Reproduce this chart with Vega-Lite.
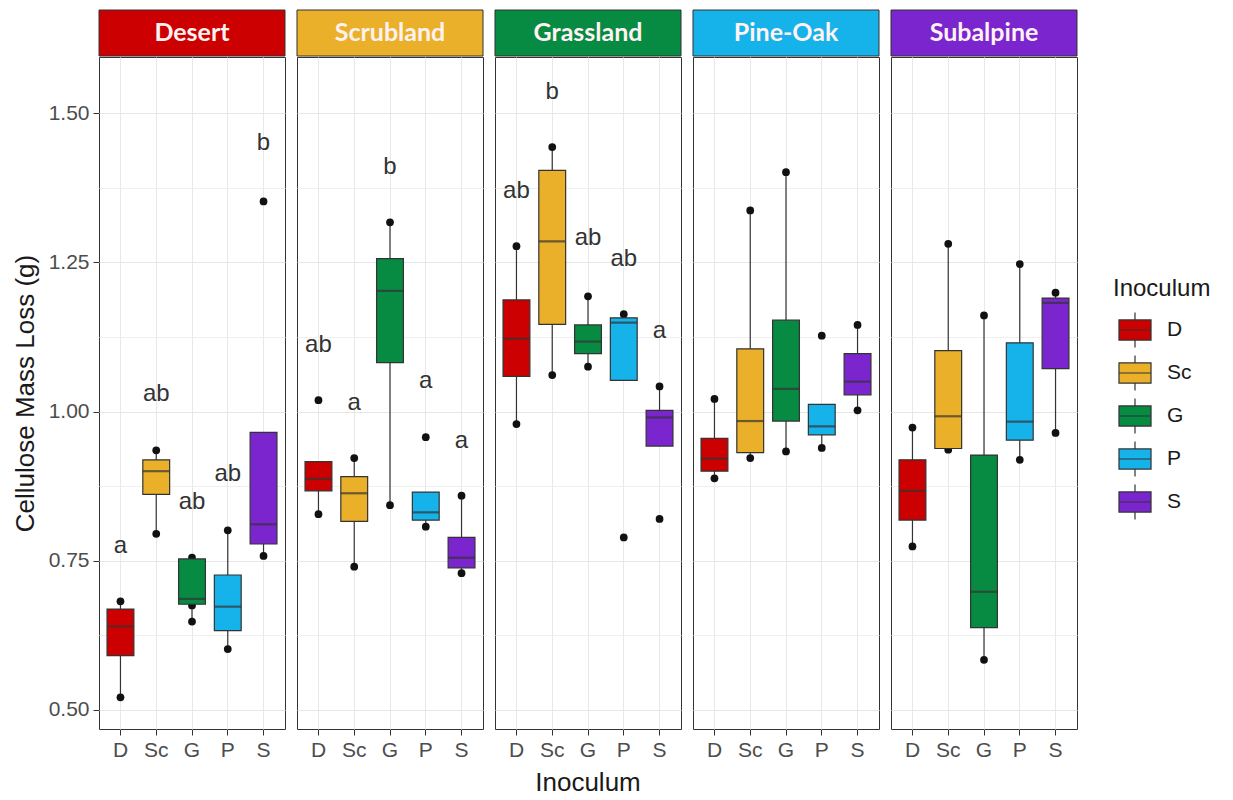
{
  "$schema": "https://vega.github.io/schema/vega-lite/v6.json",
  "background": "white",
  "padding": {"left": 12, "top": 9, "right": 5, "bottom": 5},
  "config": {
    "font": "Liberation Sans",
    "view": {"stroke": "#333333", "strokeWidth": 1},
    "concat": {"spacing": 0}
  },
  "datasets": {
    "habitats": [
      {"Habitat": "Desert"}, {"Habitat": "Scrubland"}, {"Habitat": "Grassland"}, {"Habitat": "Pine-Oak"}, {"Habitat": "Subalpine"}
    ],
    "main": [
      {"kind": "box", "Habitat": "Desert", "Inoculum": "D", "lo": 0.521, "q1": 0.591, "med": 0.640, "q3": 0.669, "hi": 0.682},
      {"kind": "box", "Habitat": "Desert", "Inoculum": "Sc", "lo": 0.795, "q1": 0.861, "med": 0.900, "q3": 0.919, "hi": 0.935},
      {"kind": "box", "Habitat": "Desert", "Inoculum": "G", "lo": 0.648, "q1": 0.677, "med": 0.686, "q3": 0.753, "hi": 0.755},
      {"kind": "box", "Habitat": "Desert", "Inoculum": "P", "lo": 0.602, "q1": 0.633, "med": 0.673, "q3": 0.726, "hi": 0.801},
      {"kind": "box", "Habitat": "Desert", "Inoculum": "S", "lo": 0.758, "q1": 0.778, "med": 0.811, "q3": 0.965, "hi": 0.965},
      {"kind": "box", "Habitat": "Scrubland", "Inoculum": "D", "lo": 0.828, "q1": 0.867, "med": 0.887, "q3": 0.916, "hi": 0.916},
      {"kind": "box", "Habitat": "Scrubland", "Inoculum": "Sc", "lo": 0.740, "q1": 0.816, "med": 0.863, "q3": 0.891, "hi": 0.922},
      {"kind": "box", "Habitat": "Scrubland", "Inoculum": "G", "lo": 0.843, "q1": 1.082, "med": 1.202, "q3": 1.256, "hi": 1.317},
      {"kind": "box", "Habitat": "Scrubland", "Inoculum": "P", "lo": 0.807, "q1": 0.818, "med": 0.831, "q3": 0.865, "hi": 0.865},
      {"kind": "box", "Habitat": "Scrubland", "Inoculum": "S", "lo": 0.729, "q1": 0.738, "med": 0.755, "q3": 0.789, "hi": 0.859},
      {"kind": "box", "Habitat": "Grassland", "Inoculum": "D", "lo": 0.979, "q1": 1.059, "med": 1.122, "q3": 1.187, "hi": 1.277},
      {"kind": "box", "Habitat": "Grassland", "Inoculum": "Sc", "lo": 1.061, "q1": 1.146, "med": 1.285, "q3": 1.404, "hi": 1.443},
      {"kind": "box", "Habitat": "Grassland", "Inoculum": "G", "lo": 1.075, "q1": 1.097, "med": 1.117, "q3": 1.145, "hi": 1.193},
      {"kind": "box", "Habitat": "Grassland", "Inoculum": "P", "lo": 1.052, "q1": 1.052, "med": 1.149, "q3": 1.157, "hi": 1.163},
      {"kind": "box", "Habitat": "Grassland", "Inoculum": "S", "lo": 0.942, "q1": 0.942, "med": 0.990, "q3": 1.002, "hi": 1.042},
      {"kind": "box", "Habitat": "Pine-Oak", "Inoculum": "D", "lo": 0.888, "q1": 0.900, "med": 0.921, "q3": 0.955, "hi": 1.021},
      {"kind": "box", "Habitat": "Pine-Oak", "Inoculum": "Sc", "lo": 0.922, "q1": 0.931, "med": 0.984, "q3": 1.105, "hi": 1.337},
      {"kind": "box", "Habitat": "Pine-Oak", "Inoculum": "G", "lo": 0.933, "q1": 0.984, "med": 1.038, "q3": 1.153, "hi": 1.401},
      {"kind": "box", "Habitat": "Pine-Oak", "Inoculum": "P", "lo": 0.939, "q1": 0.961, "med": 0.975, "q3": 1.012, "hi": 1.012},
      {"kind": "box", "Habitat": "Pine-Oak", "Inoculum": "S", "lo": 1.002, "q1": 1.028, "med": 1.050, "q3": 1.097, "hi": 1.145},
      {"kind": "box", "Habitat": "Subalpine", "Inoculum": "D", "lo": 0.774, "q1": 0.818, "med": 0.867, "q3": 0.919, "hi": 0.973},
      {"kind": "box", "Habitat": "Subalpine", "Inoculum": "Sc", "lo": 0.936, "q1": 0.938, "med": 0.992, "q3": 1.102, "hi": 1.281},
      {"kind": "box", "Habitat": "Subalpine", "Inoculum": "G", "lo": 0.584, "q1": 0.638, "med": 0.698, "q3": 0.927, "hi": 1.161},
      {"kind": "box", "Habitat": "Subalpine", "Inoculum": "P", "lo": 0.919, "q1": 0.952, "med": 0.983, "q3": 1.115, "hi": 1.247},
      {"kind": "box", "Habitat": "Subalpine", "Inoculum": "S", "lo": 0.964, "q1": 1.072, "med": 1.182, "q3": 1.190, "hi": 1.199},

      {"kind": "dot", "Habitat": "Desert", "Inoculum": "D", "v": 0.682},
      {"kind": "dot", "Habitat": "Desert", "Inoculum": "D", "v": 0.521},
      {"kind": "dot", "Habitat": "Desert", "Inoculum": "Sc", "v": 0.935},
      {"kind": "dot", "Habitat": "Desert", "Inoculum": "Sc", "v": 0.795},
      {"kind": "dot", "Habitat": "Desert", "Inoculum": "G", "v": 0.755},
      {"kind": "dot", "Habitat": "Desert", "Inoculum": "G", "v": 0.675},
      {"kind": "dot", "Habitat": "Desert", "Inoculum": "G", "v": 0.648},
      {"kind": "dot", "Habitat": "Desert", "Inoculum": "P", "v": 0.801},
      {"kind": "dot", "Habitat": "Desert", "Inoculum": "P", "v": 0.602},
      {"kind": "dot", "Habitat": "Desert", "Inoculum": "S", "v": 1.352},
      {"kind": "dot", "Habitat": "Desert", "Inoculum": "S", "v": 0.758},
      {"kind": "dot", "Habitat": "Scrubland", "Inoculum": "D", "v": 1.019},
      {"kind": "dot", "Habitat": "Scrubland", "Inoculum": "D", "v": 0.828},
      {"kind": "dot", "Habitat": "Scrubland", "Inoculum": "Sc", "v": 0.922},
      {"kind": "dot", "Habitat": "Scrubland", "Inoculum": "Sc", "v": 0.740},
      {"kind": "dot", "Habitat": "Scrubland", "Inoculum": "G", "v": 1.317},
      {"kind": "dot", "Habitat": "Scrubland", "Inoculum": "G", "v": 0.843},
      {"kind": "dot", "Habitat": "Scrubland", "Inoculum": "P", "v": 0.957},
      {"kind": "dot", "Habitat": "Scrubland", "Inoculum": "P", "v": 0.807},
      {"kind": "dot", "Habitat": "Scrubland", "Inoculum": "S", "v": 0.859},
      {"kind": "dot", "Habitat": "Scrubland", "Inoculum": "S", "v": 0.729},
      {"kind": "dot", "Habitat": "Grassland", "Inoculum": "D", "v": 1.277},
      {"kind": "dot", "Habitat": "Grassland", "Inoculum": "D", "v": 0.979},
      {"kind": "dot", "Habitat": "Grassland", "Inoculum": "Sc", "v": 1.443},
      {"kind": "dot", "Habitat": "Grassland", "Inoculum": "Sc", "v": 1.061},
      {"kind": "dot", "Habitat": "Grassland", "Inoculum": "G", "v": 1.193},
      {"kind": "dot", "Habitat": "Grassland", "Inoculum": "G", "v": 1.075},
      {"kind": "dot", "Habitat": "Grassland", "Inoculum": "P", "v": 1.163},
      {"kind": "dot", "Habitat": "Grassland", "Inoculum": "P", "v": 0.789},
      {"kind": "dot", "Habitat": "Grassland", "Inoculum": "S", "v": 1.042},
      {"kind": "dot", "Habitat": "Grassland", "Inoculum": "S", "v": 0.820},
      {"kind": "dot", "Habitat": "Pine-Oak", "Inoculum": "D", "v": 1.021},
      {"kind": "dot", "Habitat": "Pine-Oak", "Inoculum": "D", "v": 0.888},
      {"kind": "dot", "Habitat": "Pine-Oak", "Inoculum": "Sc", "v": 1.337},
      {"kind": "dot", "Habitat": "Pine-Oak", "Inoculum": "Sc", "v": 0.922},
      {"kind": "dot", "Habitat": "Pine-Oak", "Inoculum": "G", "v": 1.401},
      {"kind": "dot", "Habitat": "Pine-Oak", "Inoculum": "G", "v": 0.933},
      {"kind": "dot", "Habitat": "Pine-Oak", "Inoculum": "P", "v": 1.127},
      {"kind": "dot", "Habitat": "Pine-Oak", "Inoculum": "P", "v": 0.939},
      {"kind": "dot", "Habitat": "Pine-Oak", "Inoculum": "S", "v": 1.145},
      {"kind": "dot", "Habitat": "Pine-Oak", "Inoculum": "S", "v": 1.002},
      {"kind": "dot", "Habitat": "Subalpine", "Inoculum": "D", "v": 0.973},
      {"kind": "dot", "Habitat": "Subalpine", "Inoculum": "D", "v": 0.774},
      {"kind": "dot", "Habitat": "Subalpine", "Inoculum": "Sc", "v": 1.281},
      {"kind": "dot", "Habitat": "Subalpine", "Inoculum": "Sc", "v": 0.936},
      {"kind": "dot", "Habitat": "Subalpine", "Inoculum": "G", "v": 1.161},
      {"kind": "dot", "Habitat": "Subalpine", "Inoculum": "G", "v": 0.584},
      {"kind": "dot", "Habitat": "Subalpine", "Inoculum": "P", "v": 1.247},
      {"kind": "dot", "Habitat": "Subalpine", "Inoculum": "P", "v": 0.919},
      {"kind": "dot", "Habitat": "Subalpine", "Inoculum": "S", "v": 1.199},
      {"kind": "dot", "Habitat": "Subalpine", "Inoculum": "S", "v": 0.964},

      {"kind": "letter", "Habitat": "Desert", "Inoculum": "D", "v": 0.775, "label": "a"},
      {"kind": "letter", "Habitat": "Desert", "Inoculum": "Sc", "v": 1.030, "label": "ab"},
      {"kind": "letter", "Habitat": "Desert", "Inoculum": "G", "v": 0.848, "label": "ab"},
      {"kind": "letter", "Habitat": "Desert", "Inoculum": "P", "v": 0.895, "label": "ab"},
      {"kind": "letter", "Habitat": "Desert", "Inoculum": "S", "v": 1.450, "label": "b"},
      {"kind": "letter", "Habitat": "Scrubland", "Inoculum": "D", "v": 1.112, "label": "ab"},
      {"kind": "letter", "Habitat": "Scrubland", "Inoculum": "Sc", "v": 1.015, "label": "a"},
      {"kind": "letter", "Habitat": "Scrubland", "Inoculum": "G", "v": 1.410, "label": "b"},
      {"kind": "letter", "Habitat": "Scrubland", "Inoculum": "P", "v": 1.051, "label": "a"},
      {"kind": "letter", "Habitat": "Scrubland", "Inoculum": "S", "v": 0.951, "label": "a"},
      {"kind": "letter", "Habitat": "Grassland", "Inoculum": "D", "v": 1.370, "label": "ab"},
      {"kind": "letter", "Habitat": "Grassland", "Inoculum": "Sc", "v": 1.536, "label": "b"},
      {"kind": "letter", "Habitat": "Grassland", "Inoculum": "G", "v": 1.290, "label": "ab"},
      {"kind": "letter", "Habitat": "Grassland", "Inoculum": "P", "v": 1.256, "label": "ab"},
      {"kind": "letter", "Habitat": "Grassland", "Inoculum": "S", "v": 1.135, "label": "a"}
    ]
  },
  "resolve": {"scale": {"x": "independent", "color": "independent", "fill": "independent"}},
  "spacing": -5,
  "vconcat": [
    {
      "data": {"name": "habitats"},
      "width": 978,
      "height": 46,
      "view": {"stroke": null},
      "encoding": {
        "x": {"field": "Habitat", "type": "nominal", "sort": ["Desert", "Scrubland", "Grassland", "Pine-Oak", "Subalpine"], "scale": {"paddingInner": 0.0606, "paddingOuter": 0}, "axis": null}
      },
      "layer": [
        {
          "mark": {"type": "rect", "stroke": "#333333", "strokeWidth": 1},
          "encoding": {
            "color": {"field": "Habitat", "type": "nominal", "scale": {"domain": ["Desert", "Scrubland", "Grassland", "Pine-Oak", "Subalpine"], "range": ["#CC0000", "#EBB02A", "#078A42", "#16B2EA", "#7B25CF"]}, "legend": null}
          }
        },
        {
          "mark": {"type": "text", "font": "Lato", "fontWeight": "bold", "fontSize": 25, "color": "#FFF2F2"},
          "encoding": {"text": {"field": "Habitat"}}
        }
      ]
    },
    {
      "data": {"name": "main"},
      "facet": {
        "column": {
          "field": "Habitat", "type": "nominal", "sort": ["Desert", "Scrubland", "Grassland", "Pine-Oak", "Subalpine"],
          "title": "Inoculum",
          "header": {"labels": false, "labelOrient": "bottom", "labelPadding": 0, "titleOrient": "bottom", "titleFontSize": 26, "titleFontWeight": "normal", "titleColor": "#1A1A1A", "titlePadding": 0, "titleFont": "Liberation Sans"}
        }
      },
      "spacing": 12,
      "bounds": "flush",
      "spec": {
        "width": 186,
        "height": 672,
        "encoding": {
          "x": {
            "field": "Inoculum", "type": "nominal", "sort": ["D", "Sc", "G", "P", "S"],
            "scale": {"paddingInner": 0.25, "paddingOuter": 0.225},
            "axis": {"title": null, "bandPosition": 0.5, "grid": true, "gridColor": "#E8E8E8", "gridWidth": 1, "domain": false, "tickColor": "#333333", "tickSize": 6, "labelAngle": 0, "labelFontSize": 21, "labelColor": "#4D4D4D", "labelPadding": 4}
          }
        },
        "layer": [
          {
            "transform": [{"filter": "datum.kind === 'box'"}],
            "mark": {"type": "rule", "color": "#333333", "strokeWidth": 1.2},
            "encoding": {
              "y": {
                "field": "lo", "type": "quantitative", "title": "Cellulose Mass Loss (g)",
                "scale": {"domain": [0.468, 1.594], "nice": false, "zero": false},
                "axis": {
                  "values": [0.5, 0.625, 0.75, 0.875, 1, 1.125, 1.25, 1.375, 1.5],
                  "labelExpr": "abs(datum.value*4 - round(datum.value*4)) < 0.001 ? format(datum.value, '.2f') : ''",
                  "tickOpacity": {"condition": {"test": "abs(datum.value*4 - round(datum.value*4)) < 0.001", "value": 1}, "value": 0},
                  "gridColor": {"condition": {"test": "abs(datum.value*4 - round(datum.value*4)) < 0.001", "value": "#E6E6E6"}, "value": "#F0F0F0"},
                  "gridWidth": 1,
                  "domain": false, "tickColor": "#333333", "tickSize": 6,
                  "labelFontSize": 21, "labelColor": "#4D4D4D", "labelPadding": 4,
                  "titleFontSize": 26, "titleFontWeight": "normal", "titleColor": "#1A1A1A", "titlePadding": 10
                }
              },
              "y2": {"field": "hi"}
            }
          },
          {
            "transform": [{"filter": "datum.kind === 'dot'"}],
            "mark": {"type": "point", "filled": true, "size": 60, "color": "#111111", "opacity": 1},
            "encoding": {
              "y": {"field": "v", "type": "quantitative", "title": "Cellulose Mass Loss (g)", "scale": {"domain": [0.468, 1.594], "nice": false, "zero": false}}
            }
          },
          {
            "transform": [{"filter": "datum.kind === 'box'"}],
            "mark": {"type": "bar", "stroke": "#333333", "strokeWidth": 1.2},
            "encoding": {
              "y": {"field": "q1", "type": "quantitative", "title": "Cellulose Mass Loss (g)", "scale": {"domain": [0.468, 1.594], "nice": false, "zero": false}},
              "y2": {"field": "q3"},
              "fill": {
                "field": "Inoculum", "type": "nominal",
                "scale": {"domain": ["D", "Sc", "G", "P", "S"], "range": ["#CC0000", "#EBB02A", "#078A42", "#16B2EA", "#7B25CF"]},
                "legend": {
                  "title": "Inoculum", "orient": "none", "legendX": 1014, "legendY": 220,
                  "symbolType": "M-0.89,-0.56H0.89V0.56H-0.89Z M-0.89,0H0.89 M0,-0.56V-0.97 M0,0.56V0.97",
                  "symbolSize": 1296, "symbolStrokeColor": "#333333", "symbolStrokeWidth": 1.2, "symbolOpacity": 1, "symbolOffset": 3,
                  "titleFontSize": 24, "titleFontWeight": "normal", "titleColor": "#1A1A1A", "titlePadding": 10,
                  "labelFontSize": 21, "labelColor": "#1A1A1A", "labelOffset": 13, "rowPadding": 3, "padding": 0
                }
              }
            }
          },
          {
            "transform": [{"filter": "datum.kind === 'box'"}],
            "mark": {"type": "tick", "orient": "horizontal", "color": "#333333", "thickness": 2.2},
            "encoding": {
              "y": {"field": "med", "type": "quantitative", "title": "Cellulose Mass Loss (g)", "scale": {"domain": [0.468, 1.594], "nice": false, "zero": false}}
            }
          },
          {
            "transform": [{"filter": "datum.kind === 'letter'"}],
            "mark": {"type": "text", "fontSize": 24, "color": "#333333", "baseline": "middle"},
            "encoding": {
              "y": {"field": "v", "type": "quantitative", "title": "Cellulose Mass Loss (g)", "scale": {"domain": [0.468, 1.594], "nice": false, "zero": false}},
              "text": {"field": "label"}
            }
          }
        ]
      }
    }
  ]
}
